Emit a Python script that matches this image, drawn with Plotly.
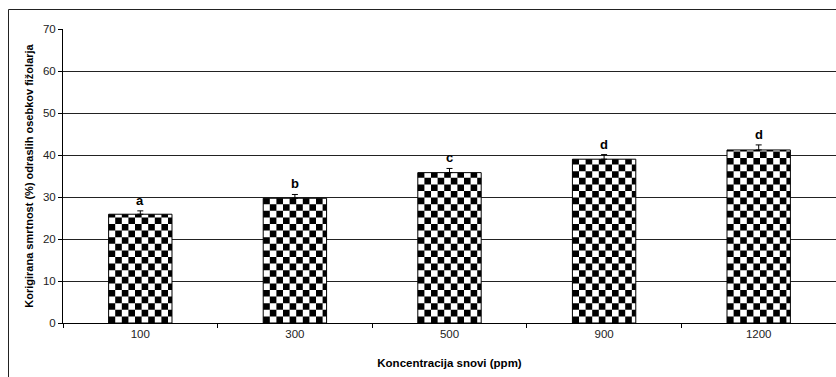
import numpy as np
import plotly.graph_objects as go

# Data
concentrations = ["100", "300", "500", "900", "1200"]
mortality = [25.9, 29.7, 35.8, 39.0, 41.2]
mortality_err = [0.8, 0.9, 1.0, 1.1, 1.2]
group_letters = ["a", "b", "c", "d", "d"]

# Layout geometry / style
W, H = 836, 377
M_L, M_R, M_T, M_B = 63, 0, 29, 54
Y_MAX = 70
BAR_WIDTH = 0.41
CELL_PX = 6.6
FONT = "Liberation Sans, Arial, sans-serif"

plot_w = W - M_L - M_R
plot_h = H - M_T - M_B
n = len(concentrations)
x_pos = np.arange(n)
cell_x = CELL_PX * n / plot_w          # cell width in x data units
cell_y = CELL_PX * Y_MAX / plot_h      # cell height in y data units

fig = go.Figure()

# Bars: white fill, black outline, upward error bars
fig.add_trace(go.Bar(
    x=x_pos, y=mortality, width=BAR_WIDTH,
    marker=dict(color="white", line=dict(color="black", width=1)),
    error_y=dict(type="data", symmetric=False, array=mortality_err,
                 arrayminus=[0] * n, color="black", thickness=1, width=3),
    showlegend=False, hoverinfo="skip",
))

# Checkerboard: black squares inside each bar, clipped at the bar top
sq_x, sq_y = [], []
for xi, val in zip(x_pos, mortality):
    left, right = xi - BAR_WIDTH / 2, xi + BAR_WIDTH / 2
    xe = np.append(np.arange(left, right - 1e-9, cell_x), right)
    ye = np.append(np.arange(0, val - 1e-9, cell_y), val)
    for i in range(len(ye) - 1):
        for j in range(len(xe) - 1):
            if (i + j) % 2 == 0:
                x0, x1, y0, y1 = xe[j], xe[j + 1], ye[i], ye[i + 1]
                sq_x += [x0, x1, x1, x0, x0, None]
                sq_y += [y0, y0, y1, y1, y0, None]

fig.add_trace(go.Scatter(
    x=sq_x, y=sq_y, mode="lines", fill="toself", fillcolor="black",
    line=dict(width=0, color="black"), hoverinfo="skip", showlegend=False,
))

# Significance letters above the error bars
for xi, val, err, letter in zip(x_pos, mortality, mortality_err, group_letters):
    fig.add_annotation(
        x=xi, y=val + err, text=f"<b>{letter}</b>", showarrow=False,
        yanchor="bottom", yshift=1,
        font=dict(family=FONT, size=13, color="black"),
    )

# Outer chart frame
fig.add_shape(
    type="rect", xref="paper", yref="paper",
    x0=(8.5 - M_L) / plot_w, x1=1.02,
    y0=-0.25, y1=(plot_h + M_T - 9.5) / plot_h,
    line=dict(color="#222", width=1), fillcolor="rgba(0,0,0,0)", layer="below",
)

fig.update_layout(
    width=W, height=H,
    margin=dict(l=M_L, r=M_R, t=M_T, b=M_B),
    paper_bgcolor="white", plot_bgcolor="white",
    font=dict(family=FONT, size=11, color="#222"),
    showlegend=False,
    xaxis=dict(
        range=[-0.5, n - 0.5], tickmode="array", tickvals=list(x_pos),
        ticktext=concentrations, ticks="", showgrid=False, zeroline=False,
        showline=True, linecolor="black", linewidth=1,
        tickfont=dict(family=FONT, size=11.5, color="#222"),
        minor=dict(tickmode="array", tickvals=list(np.arange(-0.5, n, 1.0)),
                   ticks="outside", ticklen=4, tickcolor="black", showgrid=False),
        title=dict(text="<b>Koncentracija snovi (ppm)</b>", standoff=20,
                   font=dict(family=FONT, size=11.5, color="black")),
        automargin=False,
    ),
    yaxis=dict(
        range=[0, Y_MAX], dtick=10, tick0=0, ticks="outside", ticklen=4,
        tickcolor="black", showline=True, linecolor="black", linewidth=1,
        showgrid=True, gridcolor="#222", gridwidth=1, zeroline=False,
        tickfont=dict(family=FONT, size=11.5, color="#222"),
        title=dict(text="<b>Korigirana smrtnost (%) odraslih osebkov fižolarja</b>",
                   standoff=7, font=dict(family=FONT, size=11, color="black")),
        automargin=False,
    ),
)

fig.write_html("out.html")
